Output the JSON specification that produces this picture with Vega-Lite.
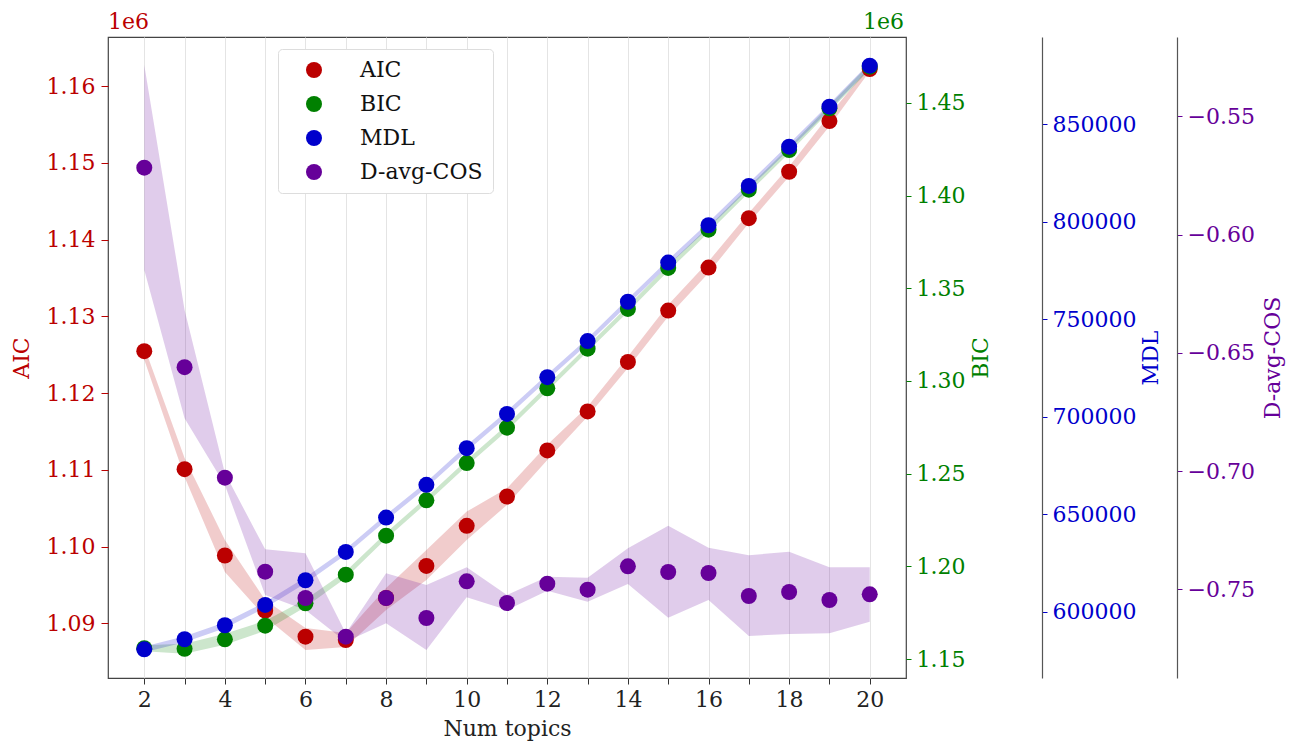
{
  "$schema": "https://vega.github.io/schema/vega-lite/v6.json",
  "width": 798,
  "height": 641,
  "autosize": {"type": "none"},
  "padding": {"left": 108, "top": 37, "right": 394, "bottom": 78},
  "background": "white",
  "config": {
    "font": "DejaVu Serif",
    "view": {"stroke": "#444444", "strokeWidth": 1.2},
    "axis": {
      "labelFont": "DejaVu Serif",
      "titleFont": "DejaVu Serif",
      "labelFontSize": 22,
      "titleFontSize": 22,
      "titleFontWeight": "normal",
      "grid": false
    },
    "legend": {
      "orient": "none",
      "legendX": 170,
      "legendY": 12,
      "labelFont": "DejaVu Serif",
      "labelFontSize": 22,
      "labelColor": "#111111",
      "symbolType": "circle",
      "symbolSize": 256,
      "symbolOpacity": 1,
      "symbolStrokeWidth": 0,
      "labelOffset": 35,
      "rowPadding": 12,
      "padding": 10,
      "symbolOffset": 15,
      "strokeColor": "#dddddd",
      "cornerRadius": 4,
      "fillColor": "white"
    }
  },
  "data": {
    "values": [
      {"series": "AIC", "k": 2, "v": 1125450, "lo": 1124340, "hi": 1126040},
      {"series": "AIC", "k": 3, "v": 1110080, "lo": 1109070, "hi": 1111550},
      {"series": "AIC", "k": 4, "v": 1098830, "lo": 1096690, "hi": 1100860},
      {"series": "AIC", "k": 5, "v": 1091640, "lo": 1090820, "hi": 1093040},
      {"series": "AIC", "k": 6, "v": 1088250, "lo": 1086520, "hi": 1089390},
      {"series": "AIC", "k": 7, "v": 1087820, "lo": 1086910, "hi": 1088740},
      {"series": "AIC", "k": 8, "v": 1093300, "lo": 1091730, "hi": 1094600},
      {"series": "AIC", "k": 9, "v": 1097470, "lo": 1095650, "hi": 1099560},
      {"series": "AIC", "k": 10, "v": 1102700, "lo": 1100860, "hi": 1104550},
      {"series": "AIC", "k": 11, "v": 1106520, "lo": 1105420, "hi": 1107600},
      {"series": "AIC", "k": 12, "v": 1112520, "lo": 1111290, "hi": 1113250},
      {"series": "AIC", "k": 13, "v": 1117600, "lo": 1116940, "hi": 1118240},
      {"series": "AIC", "k": 14, "v": 1124050, "lo": 1123250, "hi": 1124760},
      {"series": "AIC", "k": 15, "v": 1130740, "lo": 1129970, "hi": 1131500},
      {"series": "AIC", "k": 16, "v": 1136350, "lo": 1135630, "hi": 1137150},
      {"series": "AIC", "k": 17, "v": 1142780, "lo": 1142150, "hi": 1143450},
      {"series": "AIC", "k": 18, "v": 1148830, "lo": 1148230, "hi": 1149530},
      {"series": "AIC", "k": 19, "v": 1155440, "lo": 1154750, "hi": 1156270},
      {"series": "AIC", "k": 20, "v": 1162220, "lo": 1161920, "hi": 1162570},
      {"series": "BIC", "k": 2, "v": 1155800, "lo": 1154200, "hi": 1157400},
      {"series": "BIC", "k": 3, "v": 1155500, "lo": 1152800, "hi": 1158200},
      {"series": "BIC", "k": 4, "v": 1160630, "lo": 1157630, "hi": 1163630},
      {"series": "BIC", "k": 5, "v": 1167970, "lo": 1165270, "hi": 1170670},
      {"series": "BIC", "k": 6, "v": 1180050, "lo": 1178050, "hi": 1182050},
      {"series": "BIC", "k": 7, "v": 1195490, "lo": 1193690, "hi": 1197290},
      {"series": "BIC", "k": 8, "v": 1216530, "lo": 1214930, "hi": 1218130},
      {"series": "BIC", "k": 9, "v": 1235630, "lo": 1234030, "hi": 1237230},
      {"series": "BIC", "k": 10, "v": 1255720, "lo": 1254120, "hi": 1257320},
      {"series": "BIC", "k": 11, "v": 1274820, "lo": 1273220, "hi": 1276420},
      {"series": "BIC", "k": 12, "v": 1296060, "lo": 1294460, "hi": 1297660},
      {"series": "BIC", "k": 13, "v": 1317460, "lo": 1315860, "hi": 1319060},
      {"series": "BIC", "k": 14, "v": 1338880, "lo": 1337280, "hi": 1340480},
      {"series": "BIC", "k": 15, "v": 1361000, "lo": 1359400, "hi": 1362600},
      {"series": "BIC", "k": 16, "v": 1381660, "lo": 1380060, "hi": 1383260},
      {"series": "BIC", "k": 17, "v": 1403240, "lo": 1401640, "hi": 1404840},
      {"series": "BIC", "k": 18, "v": 1424640, "lo": 1423040, "hi": 1426240},
      {"series": "BIC", "k": 19, "v": 1447140, "lo": 1445540, "hi": 1448740},
      {"series": "BIC", "k": 20, "v": 1469590, "lo": 1467990, "hi": 1471190},
      {"series": "MDL", "k": 2, "v": 580700, "lo": 579200, "hi": 582200},
      {"series": "MDL", "k": 3, "v": 585850, "lo": 584350, "hi": 587350},
      {"series": "MDL", "k": 4, "v": 593030, "lo": 591530, "hi": 594530},
      {"series": "MDL", "k": 5, "v": 603440, "lo": 601940, "hi": 604940},
      {"series": "MDL", "k": 6, "v": 616100, "lo": 614600, "hi": 617600},
      {"series": "MDL", "k": 7, "v": 630620, "lo": 629120, "hi": 632120},
      {"series": "MDL", "k": 8, "v": 648260, "lo": 646760, "hi": 649760},
      {"series": "MDL", "k": 9, "v": 665030, "lo": 663530, "hi": 666530},
      {"series": "MDL", "k": 10, "v": 683800, "lo": 682300, "hi": 685300},
      {"series": "MDL", "k": 11, "v": 701390, "lo": 699890, "hi": 702890},
      {"series": "MDL", "k": 12, "v": 720210, "lo": 718710, "hi": 721710},
      {"series": "MDL", "k": 13, "v": 738720, "lo": 737220, "hi": 740220},
      {"series": "MDL", "k": 14, "v": 758870, "lo": 757370, "hi": 760370},
      {"series": "MDL", "k": 15, "v": 778970, "lo": 777470, "hi": 780470},
      {"series": "MDL", "k": 16, "v": 798100, "lo": 796600, "hi": 799600},
      {"series": "MDL", "k": 17, "v": 818260, "lo": 816760, "hi": 819760},
      {"series": "MDL", "k": 18, "v": 838360, "lo": 836860, "hi": 839860},
      {"series": "MDL", "k": 19, "v": 858870, "lo": 857370, "hi": 860370},
      {"series": "MDL", "k": 20, "v": 879900, "lo": 878400, "hi": 881400},
      {"series": "D-avg-COS", "k": 2, "v": -0.57173, "lo": -0.61499, "hi": -0.52831},
      {"series": "D-avg-COS", "k": 3, "v": -0.65609, "lo": -0.6777, "hi": -0.6319},
      {"series": "D-avg-COS", "k": 4, "v": -0.70281, "lo": -0.7059, "hi": -0.70083},
      {"series": "D-avg-COS", "k": 5, "v": -0.74256, "lo": -0.75241, "hi": -0.73309},
      {"series": "D-avg-COS", "k": 6, "v": -0.75368, "lo": -0.75875, "hi": -0.73478},
      {"series": "D-avg-COS", "k": 7, "v": -0.77004, "lo": -0.77216, "hi": -0.7686},
      {"series": "D-avg-COS", "k": 8, "v": -0.75368, "lo": -0.76438, "hi": -0.74323},
      {"series": "D-avg-COS", "k": 9, "v": -0.76214, "lo": -0.77567, "hi": -0.74818},
      {"series": "D-avg-COS", "k": 10, "v": -0.74662, "lo": -0.75338, "hi": -0.7407},
      {"series": "D-avg-COS", "k": 11, "v": -0.75579, "lo": -0.75875, "hi": -0.75241},
      {"series": "D-avg-COS", "k": 12, "v": -0.74763, "lo": -0.75059, "hi": -0.74467},
      {"series": "D-avg-COS", "k": 13, "v": -0.75017, "lo": -0.75524, "hi": -0.7451},
      {"series": "D-avg-COS", "k": 14, "v": -0.74027, "lo": -0.74776, "hi": -0.73266},
      {"series": "D-avg-COS", "k": 15, "v": -0.74268, "lo": -0.76201, "hi": -0.72311},
      {"series": "D-avg-COS", "k": 16, "v": -0.74311, "lo": -0.75452, "hi": -0.73241},
      {"series": "D-avg-COS", "k": 17, "v": -0.75283, "lo": -0.76975, "hi": -0.73562},
      {"series": "D-avg-COS", "k": 18, "v": -0.75114, "lo": -0.7689, "hi": -0.7341},
      {"series": "D-avg-COS", "k": 19, "v": -0.75452, "lo": -0.7686, "hi": -0.7407},
      {"series": "D-avg-COS", "k": 20, "v": -0.75211, "lo": -0.7637, "hi": -0.7407}
    ]
  },
  "encoding": {
    "x": {
      "field": "k",
      "type": "quantitative",
      "scale": {"domain": [1.1, 20.9], "nice": false, "zero": false},
      "axis": {
        "title": "Num topics",
        "values": [2, 3, 4, 5, 6, 7, 8, 9, 10, 11, 12, 13, 14, 15, 16, 17, 18, 19, 20],
        "labelExpr": "datum.value % 2 == 0 ? datum.label : ''",
        "grid": true,
        "gridColor": "#e4e4e4",
        "gridWidth": 1,
        "domain": false,
        "tickColor": "#333333",
        "tickSize": 6,
        "labelPadding": 5,
        "labelColor": "#222222",
        "titleColor": "#222222",
        "titlePadding": 8
      }
    },
    "color": {
      "field": "series",
      "type": "nominal",
      "scale": {
        "domain": ["AIC", "BIC", "MDL", "D-avg-COS"],
        "range": ["#bb0000", "#008000", "#0000cc", "#660099"]
      },
      "legend": {"title": null}
    }
  },
  "resolve": {"scale": {"y": "independent"}},
  "layer": [
    {
      "transform": [{"filter": "datum.series == 'AIC'"}],
      "mark": {"type": "area", "fillOpacity": 0.2, "strokeOpacity": 0.15, "strokeWidth": 1},
      "encoding": {
        "y": {"field": "lo", "type": "quantitative", "scale": {"domain": [1082870, 1166390], "nice": false, "zero": false}, "axis": null},
        "y2": {"field": "hi"}
      }
    },
    {
      "transform": [{"filter": "datum.series == 'BIC'"}],
      "mark": {"type": "area", "fillOpacity": 0.2, "strokeOpacity": 0.15, "strokeWidth": 1},
      "encoding": {
        "y": {"field": "lo", "type": "quantitative", "scale": {"domain": [1139750, 1485600], "nice": false, "zero": false}, "axis": null},
        "y2": {"field": "hi"}
      }
    },
    {
      "transform": [{"filter": "datum.series == 'MDL'"}],
      "mark": {"type": "area", "fillOpacity": 0.2, "strokeOpacity": 0.15, "strokeWidth": 1},
      "encoding": {
        "y": {"field": "lo", "type": "quantitative", "scale": {"domain": [566000, 894600], "nice": false, "zero": false}, "axis": null},
        "y2": {"field": "hi"}
      }
    },
    {
      "transform": [{"filter": "datum.series == 'D-avg-COS'"}],
      "mark": {"type": "area", "fillOpacity": 0.2, "strokeOpacity": 0.15, "strokeWidth": 1},
      "encoding": {
        "y": {"field": "lo", "type": "quantitative", "scale": {"domain": [-0.7875, -0.5165], "nice": false, "zero": false}, "axis": null},
        "y2": {"field": "hi"}
      }
    },
    {
      "transform": [{"filter": "datum.series == 'AIC'"}],
      "mark": {"type": "circle", "size": 256, "opacity": 1},
      "encoding": {
        "y": {
          "field": "v",
          "type": "quantitative",
          "scale": {"domain": [1082870, 1166390], "nice": false, "zero": false},
          "axis": {
            "orient": "left",
            "title": "AIC",
            "values": [1090000, 1100000, 1110000, 1120000, 1130000, 1140000, 1150000, 1160000],
            "labelExpr": "format(datum.value / 1000000, '.2f')",
            "domain": false,
            "tickColor": "#bb0000",
            "tickSize": 7,
            "labelPadding": 6,
            "labelColor": "#bb0000",
            "titleColor": "#bb0000",
            "titlePadding": 13
          }
        }
      }
    },
    {
      "transform": [{"filter": "datum.series == 'BIC'"}],
      "mark": {"type": "circle", "size": 256, "opacity": 1},
      "encoding": {
        "y": {
          "field": "v",
          "type": "quantitative",
          "scale": {"domain": [1139750, 1485600], "nice": false, "zero": false},
          "axis": {
            "orient": "right",
            "title": "BIC",
            "values": [1150000, 1200000, 1250000, 1300000, 1350000, 1400000, 1450000],
            "labelExpr": "format(datum.value / 1000000, '.2f')",
            "domain": false,
            "tickColor": "#008000",
            "tickSize": 5,
            "labelPadding": 5,
            "labelColor": "#008000",
            "titleColor": "#008000",
            "titleAngle": 270,
            "titleBaseline": "top",
            "titlePadding": 6
          }
        }
      }
    },
    {
      "transform": [{"filter": "datum.series == 'MDL'"}],
      "mark": {"type": "circle", "size": 256, "opacity": 1},
      "encoding": {
        "y": {
          "field": "v",
          "type": "quantitative",
          "scale": {"domain": [566000, 894600], "nice": false, "zero": false},
          "axis": {
            "orient": "right",
            "offset": 136,
            "title": "MDL",
            "values": [600000, 650000, 700000, 750000, 800000, 850000],
            "format": "d",
            "domain": true,
            "domainColor": "#555555",
            "domainWidth": 1.2,
            "tickColor": "#0000cc",
            "tickSize": 5,
            "labelPadding": 5,
            "labelColor": "#0000cc",
            "titleColor": "#0000cc",
            "titleAngle": 270,
            "titleBaseline": "top",
            "titlePadding": 5
          }
        }
      }
    },
    {
      "transform": [{"filter": "datum.series == 'D-avg-COS'"}],
      "mark": {"type": "circle", "size": 256, "opacity": 1},
      "encoding": {
        "y": {
          "field": "v",
          "type": "quantitative",
          "scale": {"domain": [-0.7875, -0.5165], "nice": false, "zero": false},
          "axis": {
            "orient": "right",
            "offset": 271,
            "title": "D-avg-COS",
            "values": [-0.75, -0.7, -0.65, -0.6, -0.55],
            "format": ".2f",
            "domain": true,
            "domainColor": "#555555",
            "domainWidth": 1.2,
            "tickColor": "#660099",
            "tickSize": 5,
            "labelPadding": 5,
            "labelColor": "#660099",
            "titleColor": "#660099",
            "titleAngle": 270,
            "titleBaseline": "top",
            "titlePadding": 8
          }
        }
      }
    },
    {
      "transform": [{"filter": "datum.series == 'AIC' && datum.k == 2"}],
      "mark": {"type": "text", "align": "left", "baseline": "bottom", "dy": -3, "fontSize": 22, "font": "DejaVu Serif", "color": "#bb0000"},
      "encoding": {
        "x": {"datum": 1.1, "type": "quantitative"},
        "y": {"datum": 1166390, "type": "quantitative", "scale": {"domain": [1082870, 1166390], "nice": false, "zero": false}, "axis": null},
        "text": {"value": "1e6"},
        "color": {"value": "#bb0000"}
      }
    },
    {
      "transform": [{"filter": "datum.series == 'BIC' && datum.k == 2"}],
      "mark": {"type": "text", "align": "right", "baseline": "bottom", "dy": -3, "fontSize": 22, "font": "DejaVu Serif", "color": "#008000"},
      "encoding": {
        "x": {"datum": 20.85, "type": "quantitative"},
        "y": {"datum": 1485600, "type": "quantitative", "scale": {"domain": [1139750, 1485600], "nice": false, "zero": false}, "axis": null},
        "text": {"value": "1e6"},
        "color": {"value": "#008000"}
      }
    }
  ]
}
